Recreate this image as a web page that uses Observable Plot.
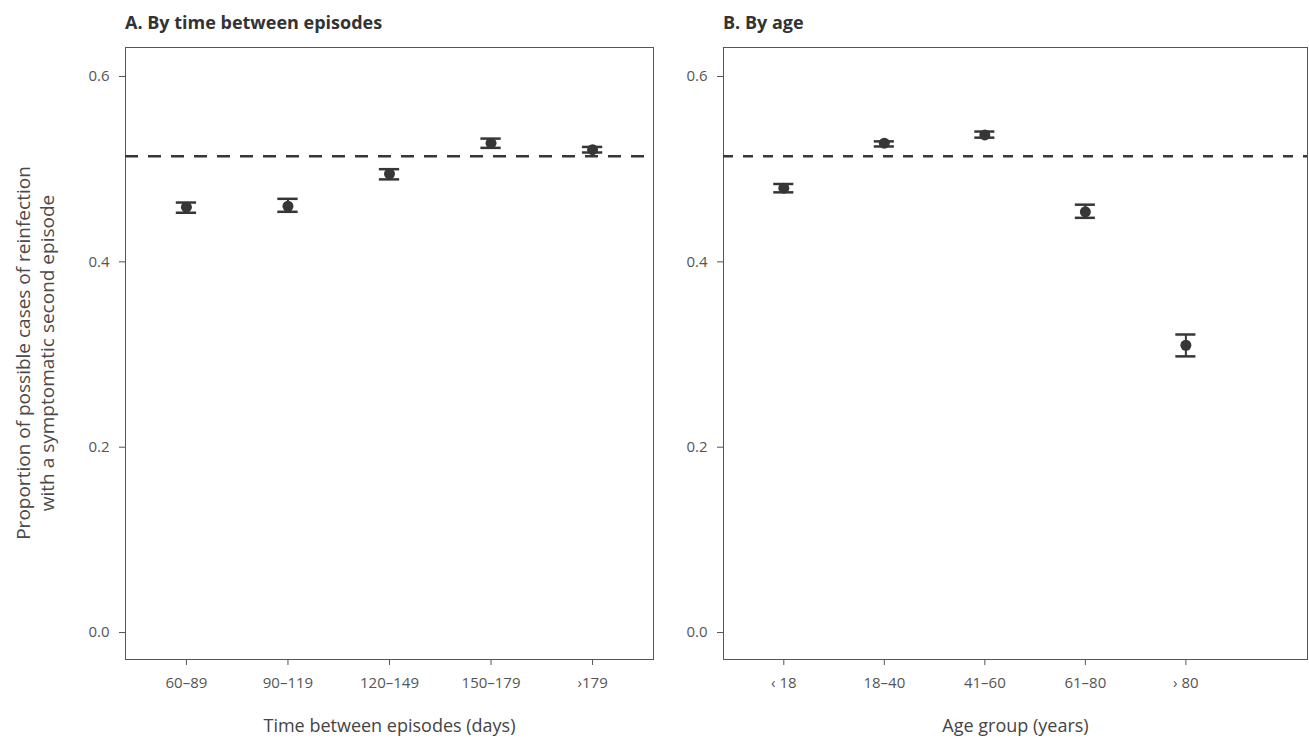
<!DOCTYPE html>
<html>
<head>
<meta charset="utf-8">
<script src="https://cdn.jsdelivr.net/npm/d3@7"></script>
<script src="https://cdn.jsdelivr.net/npm/@observablehq/plot@0.6"></script>
<style>
  html, body { margin: 0; padding: 0; background: #fff; }
  #page { position: relative; width: 1309px; height: 742px; overflow: hidden; font-family: "Open Sans", "Noto Sans", sans-serif; }
  .title { position: absolute; top: 9px; font-size: 18px; line-height: 26px; font-weight: 700; color: #333; white-space: nowrap; }
  .ylab { position: absolute; left: 35px; top: 353px; transform: translate(-50%, -50%) rotate(-90deg); text-align: center; white-space: nowrap; font-size: 19px; line-height: 24px; color: #4a4a4a; }
  .panel { position: absolute; top: 0; }
</style>
</head>
<body>
<div id="page">
  <div class="title" style="left:125px">A. By time between episodes</div>
  <div class="title" style="left:723px">B. By age</div>
  <div class="ylab">Proportion of possible cases of reinfection<br>with a symptomatic second episode</div>
  <div id="pa" class="panel" style="left:0px"></div>
  <div id="pb" class="panel" style="left:660px"></div>
</div>
<script>
// ---- data ----
const timeCats = ["60–89", "90–119", "120–149", "150–179", "›179"];
const timeEst  = [0.459, 0.460, 0.495, 0.528, 0.521];
const timeLo   = [0.453, 0.454, 0.489, 0.523, 0.518];
const timeHi   = [0.464, 0.468, 0.500, 0.533, 0.524];

const ageCats = ["‹ 18", "18–40", "41–60", "61–80", "› 80"];
const ageEst  = [0.4795, 0.528, 0.537, 0.454, 0.310];
const ageLo   = [0.475, 0.5245, 0.534, 0.4475, 0.298];
const ageHi   = [0.484, 0.530, 0.5406, 0.4617, 0.3216];

const refLine = [0.514];
const yTicks = [0.0, 0.2, 0.4, 0.6];

const ink = "#363636";
const fontFamily = "'Open Sans', 'Noto Sans', sans-serif";

function panel({cats, est, lo, hi, width, marginLeft, marginRight, xDomain, xLabel, dash}) {
  const data = cats.map((c, i) => ({i: i + 1, c, est: est[i], lo: lo[i], hi: hi[i]}));
  return Plot.plot({
    width, height: 742,
    marginTop: 47, marginBottom: 83, marginLeft, marginRight,
    style: {fontFamily, fontSize: "15px", color: "#555", background: "transparent", overflow: "visible"},
    x: {domain: xDomain, ticks: data.map(d => d.i), tickFormat: i => cats[i - 1], tickSize: 6, tickPadding: 12, label: null},
    y: {domain: [-0.0291, 0.6313], ticks: yTicks, tickFormat: d3.format(".1f"), tickSize: 6, tickPadding: 10, label: null},
    marks: [
      Plot.frame({stroke: "#555", strokeWidth: 1}),
      Plot.ruleY(refLine, {stroke: ink, strokeWidth: 2.5, strokeDasharray: dash}),
      Plot.ruleX(data, {x: "i", y1: "lo", y2: "hi", stroke: ink, strokeWidth: 2}),
      Plot.ruleY(data, {y: "lo", x1: d => d.i - 0.1, x2: d => d.i + 0.1, stroke: ink, strokeWidth: 2.5}),
      Plot.ruleY(data, {y: "hi", x1: d => d.i - 0.1, x2: d => d.i + 0.1, stroke: ink, strokeWidth: 2.5}),
      Plot.dot(data, {x: "i", y: "est", r: 5.5, fill: ink, stroke: "none"}),
      Plot.text([xLabel], {frameAnchor: "bottom", dy: 72, fontSize: 18, fill: "#444"})
    ]
  });
}

document.getElementById("pa").append(panel({
  cats: timeCats, est: timeEst, lo: timeLo, hi: timeHi,
  width: 660, marginLeft: 125, marginRight: 7, xDomain: [0.4, 5.6],
  xLabel: "Time between episodes (days)", dash: "13,10"
}));
document.getElementById("pb").append(panel({
  cats: ageCats, est: ageEst, lo: ageLo, hi: ageHi,
  width: 649, marginLeft: 63, marginRight: 2, xDomain: [0.4, 6.21],
  xLabel: "Age group (years)", dash: "10,10"
}));
</script>
</body>
</html>
